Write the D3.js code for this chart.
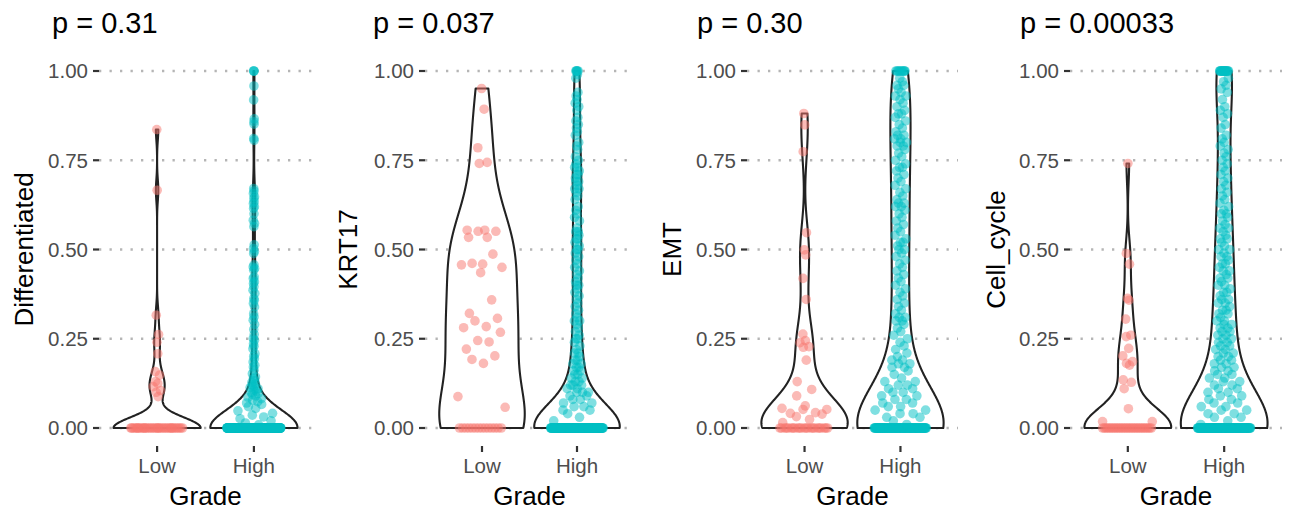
<!DOCTYPE html>
<html>
<head>
<meta charset="utf-8">
<script src="https://cdn.jsdelivr.net/npm/d3@7"></script>
<style>
  body { margin: 0; background: #fff; }
  svg { display: block; font-family: "Liberation Sans", Arial, Helvetica, sans-serif; }
</style>
</head>
<body>
<svg id="chart" width="1296" height="513"></svg>
<script>
// ---- data ----
var features = ["Differentiated", "KRT17", "EMT", "Cell_cycle"];
var pLabels = ["p = 0.31", "p = 0.037", "p = 0.30", "p = 0.00033"];
var grades = ["Low", "High"];
var yTicks = [0, 0.25, 0.5, 0.75, 1];
var yTickLabels = ["0.00", "0.25", "0.50", "0.75", "1.00"];

// number of samples scored exactly 0, per feature: [Low, High]
var zeroCounts = [[36, 360], [14, 175], [23, 120], [30, 135]];

// non-zero scores
var diffLow = [0.836, 0.666, 0.316, 0.262, 0.24, 0.208, 0.158, 0.148, 0.13, 0.125, 0.116, 0.105, 0.1, 0.088];
var diffHigh = [1, 1, 1, 0.958, 0.919, 0.866, 0.858, 0.851, 0.811, 0.806,
  0.671, 0.664, 0.657, 0.648, 0.643, 0.634, 0.629, 0.62, 0.615, 0.6, 0.582, 0.573, 0.564,
  0.513, 0.503, 0.495, 0.489, 0.457, 0.451, 0.447, 0.442, 0.423, 0.419, 0.41, 0.405, 0.396, 0.386,
  0.377, 0.363, 0.358, 0.349, 0.339, 0.32, 0.311, 0.302, 0.29, 0.276, 0.262, 0.251, 0.246, 0.236,
  0.229, 0.222, 0.208, 0.201, 0.194, 0.185, 0.176, 0.171, 0.162, 0.152, 0.143,
  0.138, 0.133, 0.128, 0.124, 0.12, 0.117, 0.113, 0.11, 0.106, 0.103, 0.1, 0.097, 0.094, 0.09,
  0.086, 0.082, 0.078, 0.074, 0.07, 0.066, 0.06, 0.055, 0.048, 0.041, 0.036, 0.031, 0.026, 0.02, 0.014, 0.009];

var krtLow = [0.951, 0.893, 0.785, 0.744, 0.741, 0.554, 0.551, 0.554, 0.551, 0.534, 0.534, 0.487,
  0.461, 0.459, 0.457, 0.45, 0.435, 0.359, 0.321, 0.307, 0.3, 0.284, 0.281, 0.268, 0.245, 0.241,
  0.221, 0.202, 0.192, 0.181, 0.088, 0.058];
var krtHigh = [1, 1, 1, 1, 1, 0.99, 0.98, 0.94, 0.93, 0.92, 0.91, 0.9, 0.89, 0.87, 0.86, 0.85, 0.84,
  0.83, 0.82, 0.8, 0.79, 0.78, 0.76, 0.75, 0.74, 0.73, 0.73, 0.72, 0.71, 0.71, 0.7, 0.69, 0.69, 0.68,
  0.67, 0.67, 0.66, 0.65, 0.64, 0.62, 0.61, 0.6, 0.59, 0.58, 0.56, 0.55, 0.55, 0.54, 0.53, 0.53, 0.52,
  0.51, 0.5, 0.5, 0.49, 0.48, 0.47, 0.46, 0.45, 0.44, 0.43, 0.42, 0.41, 0.4, 0.4, 0.39, 0.38, 0.37,
  0.36, 0.35, 0.34, 0.33, 0.32, 0.31, 0.3, 0.3, 0.29, 0.28, 0.27, 0.26, 0.25, 0.25, 0.24, 0.23, 0.22,
  0.21, 0.21, 0.2, 0.19, 0.19, 0.18, 0.18, 0.17, 0.17, 0.16, 0.16, 0.15, 0.15, 0.14, 0.14, 0.13,
  0.13, 0.12, 0.12, 0.12, 0.11, 0.11, 0.1, 0.1, 0.1, 0.09, 0.09, 0.08, 0.08, 0.07,
  0.07, 0.06, 0.06, 0.05, 0.05, 0.04, 0.03, 0.02];

var emtLow = [0.881, 0.849, 0.774, 0.547, 0.499, 0.485, 0.419, 0.36, 0.263, 0.245, 0.239, 0.228,
  0.226, 0.19, 0.13, 0.108, 0.09, 0.062, 0.055, 0.052, 0.052, 0.043, 0.041, 0.039, 0.032, 0.024, 0.015];
var emtHigh = [1, 1, 1, 1, 1, 1, 1, 1, 1, 1, 0.98, 0.97, 0.96, 0.96, 0.95, 0.94, 0.93, 0.93, 0.92,
  0.91, 0.9, 0.89, 0.88, 0.88, 0.87, 0.86, 0.85, 0.84, 0.83, 0.82, 0.82, 0.81, 0.81, 0.8, 0.8, 0.79,
  0.79, 0.78, 0.77, 0.76, 0.75, 0.74, 0.73, 0.73, 0.72, 0.71, 0.7, 0.69, 0.68, 0.67, 0.66, 0.65, 0.64,
  0.63, 0.63, 0.62, 0.62, 0.61, 0.6, 0.59, 0.58, 0.57, 0.56, 0.55, 0.54, 0.53, 0.52, 0.52, 0.51, 0.5,
  0.5, 0.49, 0.48, 0.47, 0.46, 0.45, 0.44, 0.43, 0.42, 0.41, 0.4, 0.39, 0.38, 0.37, 0.36, 0.35, 0.34,
  0.33, 0.32, 0.31, 0.31, 0.3, 0.3, 0.29, 0.28, 0.27, 0.26, 0.25, 0.24, 0.23, 0.22, 0.21, 0.2, 0.19,
  0.19, 0.18, 0.18, 0.17, 0.17, 0.16, 0.15, 0.14, 0.13, 0.13, 0.12, 0.12, 0.11, 0.11, 0.1, 0.1, 0.09,
  0.09, 0.08, 0.08, 0.07, 0.07, 0.06, 0.06, 0.05, 0.05, 0.04, 0.04, 0.03, 0.03,
  0.02, 0.01];

var cycLow = [0.741, 0.489, 0.459, 0.363, 0.358, 0.305, 0.26, 0.256, 0.223, 0.202, 0.186, 0.181,
  0.176, 0.135, 0.128, 0.11, 0.054, 0.018, 0.018];
var cycHigh = [1, 1, 1, 1, 1, 1, 1, 1, 1, 1, 1, 1, 1, 1, 1, 1, 1, 1, 0.98, 0.97, 0.96, 0.95, 0.94,
  0.92, 0.9, 0.89, 0.88, 0.87, 0.85, 0.84, 0.82, 0.81, 0.8, 0.79, 0.78, 0.77, 0.76, 0.75, 0.74, 0.73,
  0.72, 0.71, 0.7, 0.69, 0.68, 0.67, 0.66, 0.65, 0.64, 0.63, 0.62, 0.61, 0.6, 0.6, 0.59, 0.58, 0.57,
  0.56, 0.56, 0.55, 0.54, 0.53, 0.53, 0.52, 0.51, 0.5, 0.5, 0.49, 0.48, 0.48, 0.47, 0.46, 0.46, 0.45,
  0.44, 0.44, 0.43, 0.42, 0.42, 0.41, 0.4, 0.4, 0.39, 0.38, 0.38, 0.37, 0.36, 0.36, 0.35, 0.35, 0.34,
  0.33, 0.33, 0.32, 0.32, 0.31, 0.3, 0.3, 0.29, 0.29, 0.28, 0.28, 0.27, 0.27, 0.26, 0.26, 0.25, 0.25,
  0.24, 0.24, 0.23, 0.23, 0.22, 0.22, 0.21, 0.21, 0.2, 0.2, 0.19, 0.19, 0.18, 0.18, 0.17, 0.17, 0.16,
  0.16, 0.15, 0.15, 0.14, 0.14, 0.13, 0.13, 0.12, 0.12, 0.11, 0.11, 0.1, 0.1, 0.09, 0.09, 0.08, 0.08,
  0.07, 0.07, 0.06, 0.06, 0.05, 0.05, 0.04, 0.04, 0.03, 0.03, 0.02, 0.01];

var scores = [[diffLow, diffHigh], [krtLow, krtHigh], [emtLow, emtHigh], [cycLow, cycHigh]];
var colors = {Low: "#F8766D", High: "#00BFC4"};

// ---- layout ----
var plotLeft = [0, 324, 648, 972];
var panelLeft = [99, 425, 747, 1070];
var panelRight = [312, 634, 958, 1282];
var titleX = [52, 373, 697, 1020];

var svg = d3.select("#chart");
var y = d3.scaleLinear().domain([0, 1]).range([428, 71]);
var panelTop = 53, panelBottom = 446;

// gaussian KDE with R's bw.nrd0, trimmed to the data range (like geom_violin)
function bwNrd0(x) {
	var s = x.slice().sort(d3.ascending);
	var hi = d3.deviation(s);
	var lo = Math.min(hi, (d3.quantileSorted(s, 0.75) - d3.quantileSorted(s, 0.25)) / 1.34);
	if (!lo) lo = hi || Math.abs(s[0]) || 1;
	return 0.9 * lo * Math.pow(s.length, -0.2);
}

function kde(values) {
	var bw = bwNrd0(values), n = 512;
	var lo = d3.min(values), hi = d3.max(values);
	var pts = d3.range(n).map(function(i) {
		var t = lo + (hi - lo) * i / (n - 1);
		var d = d3.sum(values, function(v) {
			var z = (t - v) / bw;
			return Math.exp(-0.5 * z * z);
		}) / (values.length * bw * Math.sqrt(2 * Math.PI));
		return {y: t, d: d};
	});
	var mx = d3.max(pts, function(p) { return p.d; });
	pts.forEach(function(p) { p.w = p.d / mx; });
	return {pts: pts, lo: lo, hi: hi};
}

function widthAt(dens, v) {
	if (dens.hi === dens.lo) return 1;
	var k = (v - dens.lo) / (dens.hi - dens.lo) * (dens.pts.length - 1);
	var i = Math.max(0, Math.min(dens.pts.length - 2, Math.floor(k)));
	var f = k - i;
	return dens.pts[i].w * (1 - f) + dens.pts[i + 1].w * f;
}

function vanDerCorput(i) {
	var v = 0, denom = 1;
	while (i > 0) { denom *= 2; v += (i % 2) / denom; i = Math.floor(i / 2); }
	return v;
}

features.forEach(function(feature, fi) {
	var x = d3.scalePoint().domain(grades).range([panelLeft[fi], panelRight[fi]]).padding(0.6);
	var step = x.step();
	var g = svg.append("g");

	// dotted horizontal grid
	g.selectAll(".grid")
		.data(yTicks)
		.enter().append("line")
		.attr("x1", panelLeft[fi]).attr("x2", panelRight[fi])
		.attr("y1", function(d) { return y(d); }).attr("y2", function(d) { return y(d); })
		.attr("stroke", "#b5b5b5").attr("stroke-width", 2.3)
		.attr("stroke-dasharray", "2.3 8.2");

	var groups = grades.map(function(grade, gi) {
		var vals = scores[fi][gi].slice();
		for (var z = 0; z < zeroCounts[fi][gi]; z++) vals.push(0);
		return {grade: grade, values: vals, dens: kde(vals)};
	});

	// violins
	groups.forEach(function(grp) {
		var cx = x(grp.grade);
		var area = d3.area()
			.y(function(p) { return y(p.y); })
			.x0(function(p) { return cx - p.w * 0.45 * step; })
			.x1(function(p) { return cx + p.w * 0.45 * step; });
		g.append("path")
			.attr("d", area(grp.dens.pts))
			.attr("fill", "#fff")
			.attr("stroke", "#222")
			.attr("stroke-width", 2.1)
			.attr("stroke-linejoin", "round");
	});

	// quasirandom points inside the density
	groups.forEach(function(grp) {
		var cx = x(grp.grade);
		var order = d3.range(grp.values.length).sort(function(a, b) {
			return grp.values[a] - grp.values[b] || a - b;
		});
		var pts = order.map(function(idx, rank) {
			var v = grp.values[idx];
			var off = (vanDerCorput(rank + 1) * 2 - 1) * 0.28 * step * widthAt(grp.dens, v);
			return {x: cx + off, v: v};
		});
		g.selectAll(null)
			.data(pts)
			.enter().append("circle")
			.attr("cx", function(d) { return d.x; })
			.attr("cy", function(d) { return y(d.v); })
			.attr("r", 4.8)
			.attr("fill", colors[grp.grade])
			.attr("fill-opacity", 0.5);
	});

	// y axis ticks + labels
	g.selectAll(".yt")
		.data(yTicks)
		.enter().append("line")
		.attr("x1", panelLeft[fi] - 6).attr("x2", panelLeft[fi])
		.attr("y1", function(d) { return y(d); }).attr("y2", function(d) { return y(d); })
		.attr("stroke", "#333").attr("stroke-width", 2.2);
	g.selectAll(".yl")
		.data(yTicks)
		.enter().append("text")
		.attr("x", panelLeft[fi] - 11)
		.attr("y", function(d) { return y(d); })
		.attr("dy", "0.36em")
		.attr("text-anchor", "end")
		.attr("font-size", 20.5)
		.attr("fill", "#4d4d4d")
		.text(function(d, i) { return yTickLabels[i]; });

	// x axis ticks + labels
	g.selectAll(".xt")
		.data(grades)
		.enter().append("line")
		.attr("x1", function(d) { return x(d); }).attr("x2", function(d) { return x(d); })
		.attr("y1", panelBottom).attr("y2", panelBottom + 6)
		.attr("stroke", "#333").attr("stroke-width", 2.2);
	g.selectAll(".xl")
		.data(grades)
		.enter().append("text")
		.attr("x", function(d) { return x(d); })
		.attr("y", 473)
		.attr("text-anchor", "middle")
		.attr("font-size", 20.5)
		.attr("fill", "#4d4d4d")
		.text(function(d) { return d; });

	// axis titles
	g.append("text")
		.attr("x", (panelLeft[fi] + panelRight[fi]) / 2)
		.attr("y", 505)
		.attr("text-anchor", "middle")
		.attr("font-size", 26)
		.attr("fill", "#000")
		.text("Grade");
	g.append("text")
		.attr("transform", "translate(" + (plotLeft[fi] + 33) + "," + (panelTop + panelBottom) / 2 + ") rotate(-90)")
		.attr("text-anchor", "middle")
		.attr("font-size", 26)
		.attr("fill", "#000")
		.text(feature);

	// p-value title
	g.append("text")
		.attr("x", titleX[fi])
		.attr("y", 33)
		.attr("font-size", 29)
		.attr("fill", "#000")
		.text(pLabels[fi]);
});
</script>
</body>
</html>
